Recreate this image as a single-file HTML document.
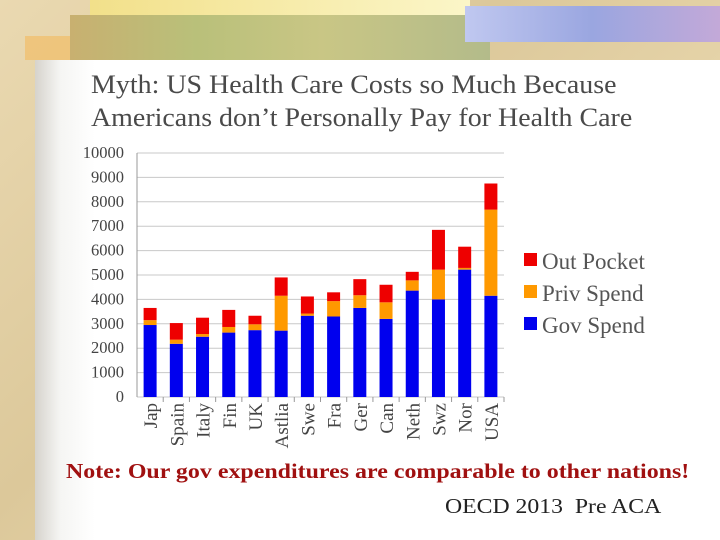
<!DOCTYPE html>
<html><head><meta charset="utf-8"><style>
body{margin:0;width:720px;height:540px;overflow:hidden;position:relative;background:#e6d6ae;font-family:"Liberation Serif",serif}
.abs{position:absolute}
</style></head><body>
<div class="abs" style="left:0;top:0;width:720px;height:540px;background:linear-gradient(135deg,#ead9b1,#dcc89a 40%,#e8d7ad 70%,#d9c493)"></div>
<div class="abs" style="left:25px;top:36px;width:140px;height:24px;background:#f0c070;opacity:.8"></div>
<div class="abs" style="left:90px;top:0;width:380px;height:16px;background:linear-gradient(90deg,#f2e08a,#fbf6c8)"></div>
<div class="abs" style="left:70px;top:15px;width:420px;height:45px;background:linear-gradient(90deg,#c8b070,#b9c07a 30%,#c9c685 60%,#b3bb8a)"></div>
<div class="abs" style="left:465px;top:6px;width:255px;height:36px;background:linear-gradient(90deg,#c0c8f0,#9aa6e0 50%,#c3a9d8)"></div>
<div class="abs" style="left:35px;top:60px;width:685px;height:480px;background:linear-gradient(90deg,#d6d3cc 0,#f5f5f3 25px,#fff 60px)"></div>
<div class="abs" style="left:91px;top:68px;font-size:26px;line-height:33px;color:#4a4a4a;white-space:nowrap;transform:scaleX(1.075);transform-origin:left top">Myth: US Health Care Costs so Much Because<br>Americans don’t Personally Pay for Health Care</div>
<svg class="abs" style="left:0;top:0" width="720" height="540">
<g id="g"></g>
</svg>
<div class="abs" style="left:66px;top:459px;font-size:21px;font-weight:bold;color:#a01010;white-space:nowrap;transform:scaleX(1.14);transform-origin:left top">Note: Our gov expenditures are comparable to other nations!</div>
<div class="abs" style="left:445px;top:494px;font-size:21px;color:#222;white-space:nowrap;transform:scaleX(1.13);transform-origin:left top">OECD 2013&nbsp; Pre ACA</div>
<script>
const categories=["Jap","Spain","Italy","Fin","UK","Astlia","Swe","Fra","Ger","Can","Neth","Swz","Nor","USA"];
const govSpend=[2950,2180,2470,2640,2740,2720,3330,3300,3650,3200,4360,4000,5220,4150];
const privSpend=[200,170,110,230,240,1430,90,630,520,680,420,1220,70,3530];
const outPocket=[500,680,670,700,350,750,700,360,660,720,350,1630,870,1070];
const yTicks=[0,1000,2000,3000,4000,5000,6000,7000,8000,9000,10000];
const NS="http://www.w3.org/2000/svg",g=document.getElementById('g');
const x0=137,x1=504,y0=397,y1=153,yMax=10000;
const y=v=>y0-(v/yMax)*(y0-y1);
const bw=(x1-x0)/categories.length;
function mk(t,a){const e=document.createElementNS(NS,t);for(const k in a)e.setAttribute(k,a[k]);g.appendChild(e);return e;}
yTicks.forEach(v=>{
 const l=mk('line',{x1:x0,x2:x1,y1:y(v),y2:y(v),stroke:'#c8c8c8','stroke-width':1});
 
 
 const t=mk('text',{x:x0-13,y:y(v)+5,'text-anchor':'end','font-size':16.5,fill:'#444','font-family':'Liberation Serif'});
 t.textContent=v;
 
 
});
const ax=mk('line',{x1:x0,x2:x0,y1:y1,y2:y0,stroke:'#999'});


const colors=['#0000ee','#ff9900','#ee0000'],names=['gov','priv','oop'];
categories.forEach((c,i)=>{
 const cx=x0+bw*(i+0.5);let base=0;
 [govSpend[i],privSpend[i],outPocket[i]].forEach((v,s)=>{
  const r=mk('rect',{x:cx-6.5,y:y(base+v),width:13,height:y(base)-y(base+v),fill:colors[s]});
  
  
  base+=v;
 });
 const tk=mk('line',{x1:x0+bw*(i+1),x2:x0+bw*(i+1),y1:y0,y2:y0+5,stroke:'#999'});
 
 
 const t=mk('text',{x:0,y:0,'text-anchor':'end','font-size':19,fill:'#444','font-family':'Liberation Serif',transform:`translate(${cx+7},${y0+6}) rotate(-90)`});
 t.textContent=c;
 
 
});
const leg=[['Out Pocket','#ee0000',261],['Priv Spend','#ff9900',293],['Gov Spend','#0000ee',325]];
leg.forEach(([n,col,yy])=>{
 const r=mk('rect',{x:524,y:yy-8,width:13,height:13,fill:col});
 
 
 const t=mk('text',{x:542,y:yy+8,'font-size':23,fill:'#555','font-family':'Liberation Serif'});
 t.textContent=n;
 
 
});
</script>
</body></html>
